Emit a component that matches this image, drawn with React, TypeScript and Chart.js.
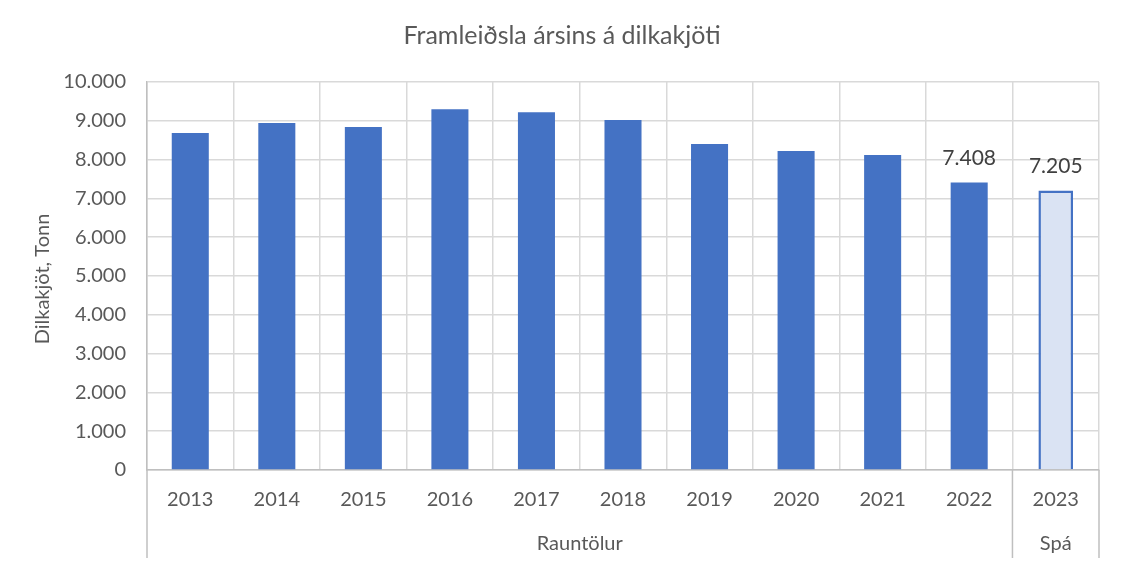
import React, { useEffect, useRef } from "react";
import { Chart, registerables } from "chart.js";

Chart.register(...registerables);

const chartTitle = "Framleiðsla ársins á dilkakjöti";
const yAxisTitle = "Dilkakjöt, Tonn";
const categories = ["2013", "2014", "2015", "2016", "2017", "2018", "2019", "2020", "2021", "2022", "2023"];
const actualValues = [8685, 8941, 8838, 9300, 9223, 9018, 8403, 8223, 8121, 7408, null];
const forecastValues = [null, null, null, null, null, null, null, null, null, null, 7205];
const groups = [
  { label: "Rauntölur", from: 0, to: 9 },
  { label: "Spá", from: 10, to: 10 },
];
const labelledIndices = [9, 10];

const FONT = "Lato, 'Open Sans', sans-serif";
const fmt = (v: number) => String(Math.round(v)).replace(/\B(?=(\d{3})+(?!\d))/g, ".");

export default function App() {
  const ref = useRef<HTMLCanvasElement | null>(null);

  useEffect(() => {
    document.body.style.margin = "0";
    const canvas = ref.current;
    if (!canvas) return;

    const extras = {
      id: "extras",
      afterDatasetsDraw(chart: any) {
        const ctx = chart.ctx;
        ctx.save();
        ctx.font = `21px ${FONT}`;
        ctx.fillStyle = "#404040";
        ctx.textAlign = "center";
        ctx.textBaseline = "middle";
        chart.data.datasets.forEach((ds: any, di: number) => {
          const meta = chart.getDatasetMeta(di);
          labelledIndices.forEach((i) => {
            const v = ds.data[i];
            if (v == null) return;
            const el = meta.data[i];
            ctx.fillText(fmt(v), el.x, el.y - 24);
          });
        });
        ctx.restore();
      },
      afterDraw(chart: any) {
        const ctx = chart.ctx;
        const x = chart.scales.x;
        const area = chart.chartArea;
        ctx.save();
        // title
        ctx.font = `25px ${FONT}`;
        ctx.fillStyle = "#595959";
        ctx.textAlign = "center";
        ctx.textBaseline = "middle";
        ctx.fillText(chartTitle, 562, 36);
        // y title
        ctx.save();
        ctx.translate(43, (area.top + area.bottom) / 2 + 3);
        ctx.rotate(-Math.PI / 2);
        ctx.font = `20px ${FONT}`;
        ctx.fillText(yAxisTitle, 0, 0);
        ctx.restore();
        // group labels and separators
        const n = categories.length;
        const boundary = (i: number) => {
          if (i <= 0) return area.left;
          if (i >= n) return area.right;
          return (x.getPixelForValue(i - 1) + x.getPixelForValue(i)) / 2;
        };
        ctx.strokeStyle = "#BFBFBF";
        ctx.lineWidth = 1.5;
        const bounds = new Set<number>();
        groups.forEach((g) => {
          bounds.add(g.from);
          bounds.add(g.to + 1);
        });
        bounds.forEach((b) => {
          const px = boundary(b);
          ctx.beginPath();
          ctx.moveTo(px, area.bottom);
          ctx.lineTo(px, 558);
          ctx.stroke();
        });
        ctx.font = `20px ${FONT}`;
        ctx.fillStyle = "#595959";
        groups.forEach((g) => {
          const cx = (boundary(g.from) + boundary(g.to + 1)) / 2;
          ctx.fillText(g.label, cx, 544);
        });
        ctx.restore();
      },
    };

    const chart = new Chart(canvas, {
      type: "bar",
      data: {
        labels: categories,
        datasets: [
          {
            label: "Rauntölur",
            data: actualValues,
            backgroundColor: "#4472C4",
            borderWidth: 0,
            grouped: false,
            categoryPercentage: 1,
            barPercentage: 0.428,
          } as any,
          {
            label: "Spá",
            data: forecastValues,
            backgroundColor: "#DAE3F3",
            borderColor: "#4472C4",
            borderWidth: 2.5,
            grouped: false,
            categoryPercentage: 1,
            barPercentage: 0.4,
          } as any,
        ],
      },
      options: {
        animation: false,
        responsive: false,
        layout: { padding: { top: 82, right: 22, left: 0, bottom: 0 } },
        plugins: {
          legend: { display: false },
          title: { display: false },
          tooltip: { enabled: false },
        },
        scales: {
          x: {
            offset: true,
            grid: { offset: true, color: "#D9D9D9", lineWidth: 1.5, drawTicks: false },
            border: { display: true, color: "#BFBFBF", width: 1.5 },
            ticks: { color: "#595959", font: { family: FONT, size: 20 }, padding: 18, maxRotation: 0, autoSkip: false },
            afterFit: (s: any) => {
              s.height = 93;
            },
          },
          y: {
            min: 0,
            max: 10000,
            grid: { color: "#D9D9D9", lineWidth: 1.5, drawTicks: false },
            border: { display: true, color: "#BFBFBF", width: 1.5 },
            ticks: {
              stepSize: 1000,
              color: "#595959",
              font: { family: FONT, size: 20 },
              padding: 21,
              callback: (v: any) => fmt(Number(v)),
            },
            afterFit: (s: any) => {
              s.width = 147;
            },
          },
        },
      },
      plugins: [extras],
    });

    return () => chart.destroy();
  }, []);

  return (
    <div style={{ width: 1121, height: 563, background: "#fff" }}>
      <canvas ref={ref} width={1121} height={563} />
    </div>
  );
}
